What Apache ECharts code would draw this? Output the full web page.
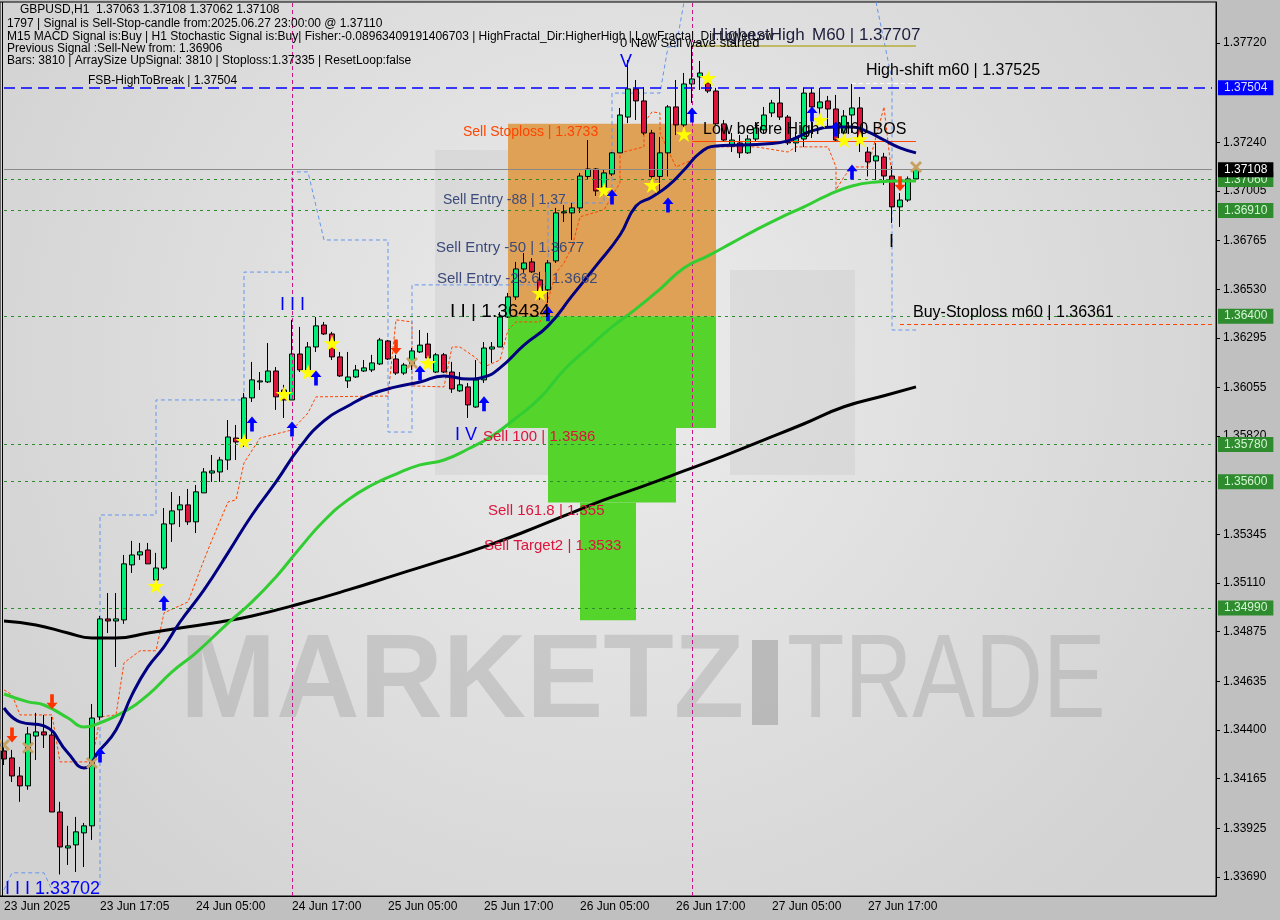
<!DOCTYPE html>
<html><head><meta charset="utf-8">
<script src="https://cdn.jsdelivr.net/npm/echarts@6/dist/echarts.min.js"></script>
<style>html,body{margin:0;padding:0;background:#c0c0c0}#chart{width:1280px;height:920px}</style>
</head><body><div id="chart"></div>
<script>
// ---------- DATA ----------
const xTickLabels = ['23 Jun 2025','23 Jun 17:05','24 Jun 05:00','24 Jun 17:00','25 Jun 05:00','25 Jun 17:00','26 Jun 05:00','26 Jun 17:00','27 Jun 05:00','27 Jun 17:00'];
const yTickValues = [1.33690,1.33925,1.34165,1.34400,1.34635,1.34875,1.35110,1.35345,1.35820,1.36055,1.36295,1.36530,1.36765,1.37005,1.37240,1.37720];

const opens  = [1.34299,1.34265,1.34178,1.34130,1.34371,1.34391,1.34376,1.34004,1.33830,1.33845,1.33903,1.33937,1.34463,1.34937,1.34927,1.34932,1.35198,1.35246,1.35270,1.35125,1.35183,1.35396,1.35464,1.35488,1.35406,1.35546,1.35642,1.35647,1.35705,1.35811,1.35792,1.36005,1.36082,1.36082,1.36135,1.36043,1.35995,1.36217,1.36140,1.36251,1.36357,1.36314,1.36203,1.36087,1.36106,1.36135,1.36140,1.36169,1.36280,1.36193,1.36125,1.36164,1.36227,1.36265,1.36130,1.36213,1.36130,1.36039,1.36058,1.35961,1.36092,1.36241,1.36251,1.36396,1.36493,1.36628,1.36662,1.36575,1.36527,1.36667,1.36899,1.36899,1.36923,1.37075,1.37111,1.37024,1.37087,1.37189,1.37362,1.37498,1.37440,1.37285,1.37075,1.37189,1.37411,1.37324,1.37522,1.37556,1.37527,1.37488,1.37329,1.37222,1.37237,1.37189,1.37256,1.37300,1.37382,1.37430,1.37362,1.37237,1.37256,1.37478,1.37406,1.37440,1.37401,1.37285,1.37372,1.37406,1.37193,1.37150,1.37169,1.37077,1.36928,1.36961,1.37063];
const highs  = [1.34328,1.34304,1.34222,1.34415,1.34483,1.34473,1.34463,1.34053,1.33937,1.33980,1.33951,1.34526,1.34951,1.35062,1.35062,1.35246,1.35314,1.35304,1.35304,1.35256,1.35473,1.35550,1.35531,1.35565,1.35584,1.35666,1.35729,1.35720,1.35898,1.35874,1.36029,1.36179,1.36130,1.36270,1.36154,1.36068,1.36382,1.36348,1.36275,1.36396,1.36372,1.36324,1.36227,1.36227,1.36164,1.36188,1.36213,1.36295,1.36285,1.36213,1.36174,1.36246,1.36333,1.36319,1.36222,1.36222,1.36179,1.36130,1.36077,1.36188,1.36275,1.36275,1.36420,1.36512,1.36662,1.36705,1.36681,1.36614,1.36671,1.36923,1.36937,1.36947,1.37092,1.37251,1.37116,1.37106,1.37193,1.37406,1.37638,1.37541,1.37507,1.37300,1.37266,1.37420,1.37541,1.37575,1.37707,1.37633,1.37541,1.37503,1.37348,1.37285,1.37275,1.37275,1.37338,1.37411,1.37445,1.37503,1.37372,1.37290,1.37503,1.37503,1.37503,1.37464,1.37469,1.37396,1.37522,1.37459,1.37217,1.37237,1.37189,1.37126,1.36995,1.37075,1.37108];
const lows   = [1.34231,1.34149,1.34053,1.34111,1.34255,1.34313,1.34004,1.33702,1.33748,1.33714,1.33738,1.33869,1.34449,1.34869,1.34705,1.34913,1.35159,1.35222,1.35203,1.35111,1.35174,1.35309,1.35381,1.35391,1.35352,1.35546,1.35599,1.35599,1.35657,1.35705,1.35768,1.35985,1.36043,1.36077,1.35947,1.35908,1.35995,1.36130,1.36130,1.36227,1.36309,1.36188,1.36106,1.36053,1.36101,1.36130,1.36130,1.36164,1.36188,1.36116,1.36116,1.36140,1.36222,1.36188,1.36125,1.36125,1.36029,1.36034,1.35908,1.35957,1.36077,1.36174,1.36251,1.36391,1.36478,1.36609,1.36609,1.36478,1.36464,1.36657,1.36855,1.36768,1.36899,1.37058,1.36981,1.36986,1.37077,1.37189,1.37333,1.37348,1.37275,1.37024,1.36995,1.37075,1.37275,1.37314,1.37430,1.37493,1.37478,1.37324,1.37242,1.37193,1.37164,1.37184,1.37242,1.37285,1.37362,1.37348,1.37227,1.37193,1.37217,1.37261,1.37358,1.37309,1.37242,1.37275,1.37285,1.37193,1.37075,1.37058,1.37034,1.36850,1.36831,1.36952,1.37062];
const closes = [1.34260,1.34178,1.34130,1.34381,1.34391,1.34376,1.34004,1.33835,1.33840,1.33908,1.33937,1.34458,1.34937,1.34927,1.34937,1.35203,1.35246,1.35261,1.35203,1.35183,1.35396,1.35459,1.35488,1.35406,1.35551,1.35647,1.35652,1.35705,1.35816,1.35792,1.36005,1.36092,1.36087,1.36135,1.36010,1.35995,1.36217,1.36140,1.36251,1.36353,1.36314,1.36203,1.36111,1.36106,1.36140,1.36150,1.36174,1.36285,1.36193,1.36125,1.36164,1.36232,1.36260,1.36198,1.36213,1.36130,1.36048,1.36068,1.35971,1.36092,1.36246,1.36251,1.36396,1.36493,1.36628,1.36657,1.36614,1.36522,1.36657,1.36899,1.36904,1.36923,1.37077,1.37111,1.37005,1.37092,1.37189,1.37372,1.37498,1.37440,1.37285,1.37075,1.37189,1.37411,1.37324,1.37522,1.37546,1.37575,1.37488,1.37329,1.37251,1.37251,1.37189,1.37256,1.37309,1.37372,1.37430,1.37362,1.37237,1.37261,1.37478,1.37411,1.37435,1.37401,1.37251,1.37367,1.37406,1.37237,1.37145,1.37174,1.37077,1.36928,1.36961,1.37063,1.37108];

// moving averages: [candle index, price]
const maNavy = [[0,1.34507],[2,1.34439],[5,1.34420],[8,1.34289],[10,1.34217],[12,1.34304],[14,1.34400],[16,1.34570],[18,1.34705],[20,1.34802],[22,1.34922],[25,1.35077],[28,1.35256],[31,1.35439],[34,1.35599],[37,1.35768],[40,1.35894],[43,1.35966],[46,1.36024],[49,1.36058],[52,1.36082],[55,1.36111],[58,1.36096],[60,1.36106],[62,1.36150],[65,1.36260],[68,1.36353],[71,1.36498],[74,1.36643],[77,1.36792],[79,1.36932],[81,1.36976],[83,1.37029],[85,1.37106],[87,1.37189],[89,1.37222],[92,1.37227],[95,1.37232],[98,1.37247],[101,1.37295],[104,1.37314],[106,1.37314],[108,1.37290],[110,1.37251],[112,1.37213],[114,1.37189]];
const maGreen = [[0,1.34574],[3,1.34536],[5,1.34521],[8,1.34458],[10,1.34415],[12,1.34435],[15,1.34488],[18,1.34570],[21,1.34681],[24,1.34773],[28,1.34917],[31,1.35019],[34,1.35140],[37,1.35280],[40,1.35411],[43,1.35512],[46,1.35584],[49,1.35637],[52,1.35681],[55,1.35705],[58,1.35758],[61,1.35821],[64,1.35908],[67,1.36005],[70,1.36140],[73,1.36246],[76,1.36348],[79,1.36435],[82,1.36531],[85,1.36633],[88,1.36691],[91,1.36754],[94,1.36817],[97,1.36875],[100,1.36928],[103,1.36985],[106,1.37029],[109,1.37048],[112,1.37053],[114,1.37053]];
const maBlack = [[0,1.34927],[4,1.34908],[8,1.34869],[11,1.34845],[14,1.34845],[18,1.34869],[22,1.34893],[27,1.34922],[31,1.34951],[37,1.35010],[43,1.35077],[49,1.35150],[55,1.35222],[60,1.35285],[65,1.35357],[70,1.35435],[75,1.35512],[80,1.35580],[85,1.35652],[90,1.35725],[95,1.35802],[100,1.35880],[105,1.35962],[110,1.36015],[114,1.36058]];

// thin trailing (orange dashed) and channel (blue dashed) lines
const trailLine = [[0,1.34594],[1,1.34570],[2,1.34473],[6,1.34473],[7,1.34246],[11,1.34246],[12,1.34463],[14,1.34473],[15,1.34725],[17,1.34783],[19,1.34783],[20,1.34966],[23,1.35019],[25,1.35222],[26,1.35319],[28,1.35502],[29,1.35512],[30,1.35691],[32,1.35811],[36,1.35850],[38,1.35932],[39,1.36010],[48,1.36014],[49,1.36382],[51,1.36372],[51,1.36063],[55,1.36058],[56,1.36251],[57,1.36251],[59,1.36198],[60,1.36154],[62,1.36188],[63,1.36333],[64,1.36372],[67,1.36372],[68,1.36478],[69,1.36609],[70,1.36657],[71,1.36735],[72,1.36880],[75,1.36914],[77,1.37044],[77,1.37189],[80,1.37218],[80,1.37333],[81,1.37387],[82,1.37382],[82,1.37285],[84,1.37121],[86,1.37155],[88,1.37218],[94,1.37218],[98,1.37193],[99,1.37218],[103,1.37218],[104,1.37121],[104,1.37010],[105,1.37073],[106,1.37121],[108,1.37121],[110,1.37411],[111,1.37073]];
const channelUpper = [[12,1.33651],[12,1.35439],[19,1.35439],[19,1.35995],[30,1.35995],[30,1.36613],[36,1.36613],[36,1.37097],[38,1.37097],[40,1.36768],[48,1.36768],[48,1.35840],[51,1.35840],[51,1.36551],[68,1.36551],[68,1.36947],[75,1.36947],[75,1.37024],[76,1.37024],[76,1.37478],[82,1.37478],[83,1.37701],[84,1.37701],[85,1.37918]];
const channelRight = [[109,1.37918],[111,1.37541],[111,1.36333],[114,1.36333]];
const channelLeft = [[0,1.33628],[1,1.33710],[5,1.33710],[6,1.33628]];

// levels
const greenLevels = [1.37060,1.36910,1.36400,1.35780,1.35600,1.34990];
const fsbLevel = 1.37504;
const currentPrice = 1.37108;
const highestHigh = 1.37707;
const highShift = 1.37525;
const lowBeforeHigh = 1.37243;
const buyStoploss = 1.36361;
const vLines = [36, 86];

// zones [fromIndex, toIndex, top, bottom]
const orangeZone = [63, 89, 1.3733, 1.3640];
const greenZones = [[63, 89, 1.3640, 1.3586],[68, 84, 1.3586, 1.3550],[72, 79, 1.3550, 1.3493]];

// markers [index, price]
const stars = [[19,1.35097],[30,1.35797],[35,1.36024],[38,1.36130],[41,1.36270],[53,1.36174],[67,1.36512],[75,1.37010],[81,1.37034],[85,1.37280],[88,1.37551],[102,1.37348],[105,1.37251],[107,1.37256]];
const upArrows = [[12,1.34313],[20,1.35048],[31,1.35913],[36,1.35889],[39,1.36135],[52,1.36159],[60,1.36010],[68,1.36445],[76,1.37010],[83,1.36971],[86,1.37406],[101,1.37411],[104,1.37338],[106,1.37130]];
const downArrows = [[1,1.34410],[6,1.34570],[49,1.36285],[112,1.37073]];
const crosses = [[0,1.34328],[3,1.34314],[11,1.34241],[51,1.36174],[114,1.37121]];

// ---------- BUILD ----------
const NCAT = 152;
const categories = [];
for (let h = 0; h < NCAT; h++) {
  const d = new Date(Date.UTC(2025, 5, 23, 5 + h));
  categories.push(d.toISOString().slice(0, 13));
}
const candleData = opens.map((o, i) => [o, closes[i], lows[i], highs[i]]);

const FONT = '"Liberation Sans", Arial, sans-serif';
const chart = echarts.init(document.getElementById('chart'), null, {renderer: 'canvas'});

function txt(x, y, text, size, color, extra) {
  return Object.assign({
    type: 'text', x: x, y: y, z: 50, silent: true,
    style: {text: text, fill: color, font: size + 'px ' + FONT, verticalAlign: 'middle', align: 'left'}
  }, extra || {});
}

const LAST = NCAT - 1;
function fullLine(v, lineStyle, boxBg, boxFg) {
  return [
    {coord: [0, v], lineStyle: lineStyle,
     label: {show: true, position: 'end', distance: 6, formatter: () => v.toFixed(5), backgroundColor: boxBg, color: boxFg, padding: [2, 6, 1, 6], fontSize: 12, fontFamily: FONT}},
    {coord: [LAST, v]}
  ];
}

const greenLineStyle = {color: '#2E8B2E', type: [3, 4], width: 1};
const markLineData = [];
greenLevels.forEach(v => markLineData.push(fullLine(v, greenLineStyle, '#2E8B2E', '#D6F5D6')));
markLineData.push(fullLine(fsbLevel, {color: '#0000FF', type: [11, 6], width: 1.5}, '#0000FF', '#E0E0FF'));
markLineData.push(fullLine(currentPrice, {color: '#8A8A8A', type: 'solid', width: 1}, '#000000', '#FFFFFF'));
vLines.forEach(ix => markLineData.push({xAxis: ix, lineStyle: {color: '#C71585', type: [4, 3], width: 1}, label: {show: false}}));
const segs = [
  [86, 114, highestHigh, {color: '#B5AE3A', type: 'solid', width: 1.5}],
  [86, 114, lowBeforeHigh, {color: '#FF4500', type: 'solid', width: 1}],
  [106, 114, highShift, {color: '#FFFFFF', type: [4, 3], width: 1}],
  [112, LAST, buyStoploss, {color: '#FF4500', type: [4, 3], width: 1}]
];
segs.forEach(s => markLineData.push([{coord: [s[0], s[2]], lineStyle: s[3], label: {show: false}}, {coord: [s[1], s[2]]}]));

const areaData = [];
areaData.push([{coord: [orangeZone[0], orangeZone[2]], itemStyle: {color: '#DFA155'}}, {coord: [orangeZone[1], orangeZone[3]]}]);
greenZones.forEach(z => areaData.push([{coord: [z[0], z[2]], itemStyle: {color: '#55D42C'}}, {coord: [z[1], z[3]]}]));

const starPath = 'path://M50,0 L61,35 L98,35 L68,57 L79,91 L50,70 L21,91 L32,57 L2,35 L39,35 Z';
const upPath = 'path://M6,0 L12,7 L8,7 L8,16 L4,16 L4,7 L0,7 Z';
const downPath = 'path://M4,0 L8,0 L8,9 L12,9 L6,16 L0,9 L4,9 Z';
const xPath = 'path://M0,2 L2,0 L6,4 L10,0 L12,2 L8,6 L12,10 L10,12 L6,8 L2,12 L0,10 L4,6 Z';

const tickInterval = (idx) => idx % 12 === 0 && idx / 12 < xTickLabels.length;

const option = {
  animation: false,
  backgroundColor: '#C0C0C0',
  grid: {
    left: -1, right: 64, top: 2, bottom: 24, show: true, borderColor: '#000', borderWidth: 1,
    backgroundColor: {type: 'radial', x: 0.5, y: 0.4, r: 0.8, colorStops: [{offset: 0, color: '#ECECEC'}, {offset: 1, color: '#D2D2D2'}]}
  },
  xAxis: {
    type: 'category', data: categories, boundaryGap: true,
    axisLine: {lineStyle: {color: '#000', width: 1}},
    axisTick: {interval: tickInterval, alignWithLabel: true, length: 5, lineStyle: {color: '#000'}},
    axisLabel: {interval: tickInterval, formatter: (v, i) => xTickLabels[i / 12], align: 'left', margin: 5, color: '#000', fontSize: 12, fontFamily: FONT},
    splitLine: {show: false}
  },
  yAxis: {
    type: 'value', position: 'right', min: 1.33598, max: 1.37918, scale: true,
    axisLine: {show: true, lineStyle: {color: '#000'}},
    axisTick: {show: true, customValues: yTickValues, length: 4, lineStyle: {color: '#000'}},
    axisLabel: {customValues: yTickValues, formatter: v => v.toFixed(5), margin: 7, color: '#000', fontSize: 12, fontFamily: FONT},
    splitLine: {show: false}
  },
  graphic: [
    // faint logo blocks
    {type: 'rect', z: 1, silent: true, shape: {x: 435, y: 150, width: 140, height: 325}, style: {fill: 'rgba(180,180,180,0.22)'}},
    {type: 'rect', z: 1, silent: true, shape: {x: 730, y: 270, width: 125, height: 205}, style: {fill: 'rgba(180,180,180,0.22)'}},
    // watermark
    {type: 'text', z: 1, silent: true, x: 180, y: 684, scaleX: 0.97, style: {text: 'MARKETZ', font: 'bold 119px ' + FONT, fill: 'rgba(150,150,150,0.33)', verticalAlign: 'middle'}},
    {type: 'rect', z: 1, silent: true, shape: {x: 752, y: 640, width: 26, height: 85}, style: {fill: 'rgba(130,130,130,0.4)'}},
    {type: 'text', z: 1, silent: true, x: 787, y: 684, scaleX: 0.79, style: {text: 'TRADE', font: '119px ' + FONT, fill: 'rgba(150,150,150,0.33)', verticalAlign: 'middle'}},
    // left border
    {type: 'line', z: 40, silent: true, shape: {x1: 2.5, y1: 2, x2: 2.5, y2: 896}, style: {stroke: '#000', lineWidth: 1}},
    // header
    txt(20, 10, 'GBPUSD,H1  1.37063 1.37108 1.37062 1.37108', 12, '#000'),
    txt(7, 24, '1797 | Signal is Sell-Stop-candle from:2025.06.27 23:00:00 @ 1.37110', 12, '#000'),
    txt(7, 37, 'M15 MACD Signal is:Buy | H1 Stochastic Signal is:Buy| Fisher:-0.08963409191406703 | HighFractal_Dir:HigherHigh | LowFractal_Dir:LowerLow', 12, '#000'),
    txt(7, 49, 'Previous Signal :Sell-New from: 1.36906', 12, '#000'),
    txt(7, 61, 'Bars: 3810 | ArraySize UpSignal: 3810 | Stoploss:1.37335 | ResetLoop:false', 12, '#000'),
    txt(88, 81, 'FSB-HighToBreak | 1.37504', 12, '#000'),
    // annotations
    txt(620, 43, '0 New Sell wave started', 13, '#000'),
    txt(712, 35, 'HighestHigh', 17, '#1C1C3C'),
    txt(812, 35, 'M60 | 1.37707', 17, '#1C1C3C'),
    txt(866, 71, 'High-shift m60 | 1.37525', 16, '#000'),
    txt(703, 130, 'Low before High', 16, '#000'),
    txt(837, 130, 'M60 BOS', 16, '#000'),
    txt(913, 313, 'Buy-Stoploss m60 | 1.36361', 16, '#000'),
    txt(463, 132, 'Sell Stoploss | 1.3733', 14, '#FF4500'),
    txt(443, 200, 'Sell Entry -88 | 1.37', 14, '#3B4A7A'),
    txt(436, 248, 'Sell Entry -50 | 1.3677', 15, '#3B4A7A'),
    txt(437, 279, 'Sell Entry -23.6 | 1.3662', 15, '#3B4A7A'),
    txt(483, 437, 'Sell 100 | 1.3586', 15, '#DC143C'),
    txt(488, 511, 'Sell 161.8 | 1.355', 15, '#DC143C'),
    txt(484, 546, 'Sell Target2 | 1.3533', 15, '#DC143C'),
    txt(450, 312, 'I I | 1.36434', 19, '#000'),
    txt(280, 305, 'I I I', 18, '#0000FF'),
    txt(620, 62, 'V', 18, '#0000FF'),
    txt(455, 435, 'I V', 18, '#0000FF'),
    txt(5, 889, 'I I I 1.33702', 18, '#0000FF'),
    txt(889, 242, 'I', 18, '#000')
  ],
  series: [
    {name: 'zones', type: 'line', data: [], z: 1, silent: true,
     markArea: {silent: true, data: areaData}},
    {name: 'levels', type: 'line', data: [], z: 2, silent: true,
     markLine: {silent: true, symbol: ['none', 'none'], animation: false, data: markLineData}},
    {name: 'trail', type: 'line', data: trailLine, z: 3, showSymbol: false, silent: true, lineStyle: {color: '#FF4500', width: 1, type: [3, 2]}},
    {name: 'channelUpper', type: 'line', data: channelUpper, z: 3, showSymbol: false, silent: true, lineStyle: {color: '#6495ED', width: 1, type: [4, 3]}},
    {name: 'channelRight', type: 'line', data: channelRight, z: 3, showSymbol: false, silent: true, lineStyle: {color: '#6495ED', width: 1, type: [4, 3]}},
    {name: 'channelLeft', type: 'line', data: channelLeft, z: 3, showSymbol: false, silent: true, lineStyle: {color: '#6495ED', width: 1, type: [4, 3]}},
    {name: 'GBPUSD', type: 'candlestick', data: candleData, z: 4, barWidth: 5,
     itemStyle: {color: '#00EE76', color0: '#DC143C', borderColor: '#000', borderColor0: '#000', borderWidth: 1}},
    {name: 'MA200', type: 'line', data: maBlack, z: 5, smooth: true, showSymbol: false, lineStyle: {color: '#000000', width: 3}},
    {name: 'MA50', type: 'line', data: maGreen, z: 5, smooth: true, showSymbol: false, lineStyle: {color: '#32CD32', width: 3}},
    {name: 'MA20', type: 'line', data: maNavy, z: 5, smooth: true, showSymbol: false, lineStyle: {color: '#000080', width: 3}},
    {name: 'stars', type: 'scatter', data: stars, z: 6, symbol: starPath, symbolSize: [17, 16], itemStyle: {color: '#FFFF00', opacity: 1}},
    {name: 'up', type: 'scatter', data: upArrows, z: 6, symbol: upPath, symbolSize: [11, 15], symbolOffset: [0, 7], itemStyle: {color: '#0000FF', opacity: 1}},
    {name: 'down', type: 'scatter', data: downArrows, z: 6, symbol: downPath, symbolSize: [11, 15], symbolOffset: [0, 7], itemStyle: {color: '#FF3300', opacity: 1}},
    {name: 'cross', type: 'scatter', data: crosses, z: 6, symbol: xPath, symbolSize: 12, itemStyle: {color: '#C8A060', opacity: 1}}
  ]
};
chart.setOption(option);
</script>
</body></html>
